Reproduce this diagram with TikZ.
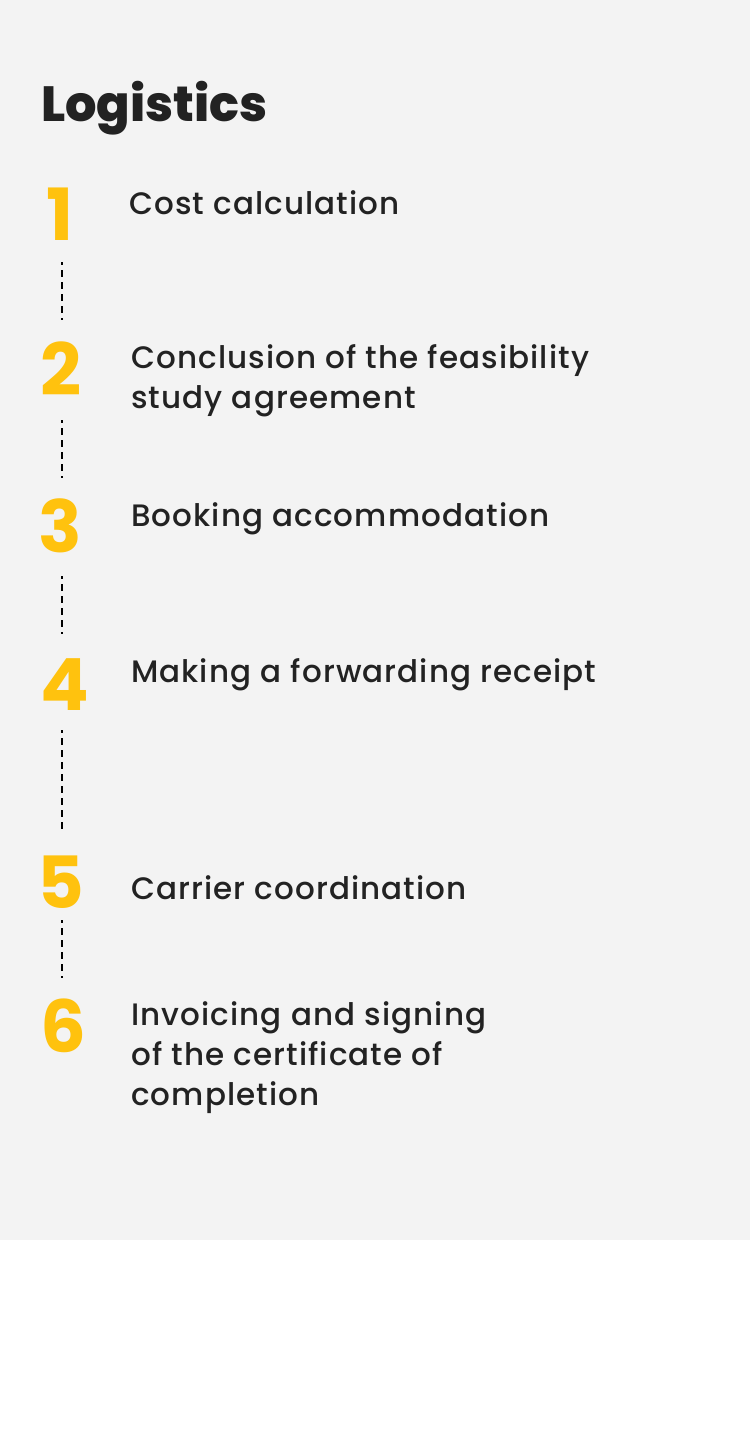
\documentclass[tikz,border=0pt]{standalone}
\usepackage{fontspec}
\setmainfont{Poppins}
\newfontfamily\labfont{Poppins}[UprightFont=* Medium, LetterSpace=3.5]
\newfontfamily\titfont{Poppins}[UprightFont=* ExtraBold]
\newfontfamily\digfont{Poppins}[UprightFont=* Bold]
\definecolor{bgc}{HTML}{F3F3F3}
\definecolor{ink}{HTML}{222222}
\definecolor{gold}{HTML}{FFC20E}
\newcommand{\lines}[1]{\begin{tabular}[t]{@{}l@{}}#1\end{tabular}}
\tikzset{
  lab/.style={anchor=base west, inner sep=0pt, text=ink, font=\labfont\fontsize{31}{40}\selectfont},
  dig/.style={anchor=base, inner sep=0pt, text=gold, font=\digfont\fontsize{72}{72}\selectfont},
  dline/.style={draw=black, line width=2pt, dash pattern=on 7pt off 5pt, dash phase=4pt},
}
\begin{document}
\begin{tikzpicture}[x=1pt,y=-1pt]
\useasboundingbox (0,0) rectangle (750,1452);
\fill[white] (0,0) rectangle (750,1452);
\fill[bgc] (0,0) rectangle (750,1240);
\node[anchor=base west, inner sep=0pt, text=ink, font=\titfont\fontsize{49.4}{50}\selectfont] (title) at (41,121) {Logistics};
\node[dig] (d1) at (60,240) {1};
\node[dig] (d2) at (61,395) {2};
\node[dig] (d3) at (60,552) {3};
\node[dig] (d4) at (65,710) {4};
\node[dig] (d5) at (61,908) {5};
\node[dig] (d6) at (63,1052) {6};
\node[lab] (l1) at (129,214) {Cost calculation};
\node[lab] (l2) at (131,368) {\lines{Conclusion of the feasibility\\study agreement}};
\node[lab] (l3) at (131,526) {Booking accommodation};
\node[lab] (l4) at (131,682) {Making a forwarding receipt};
\node[lab] (l5) at (131,899) {Carrier coordination};
\node[lab] (l6) at (131,1025) {\lines{Invoicing and signing\\of the certificate of\\completion}};
\coordinate (a1) at (62,262); \coordinate (b1) at (62,320);
\coordinate (a2) at (62,420); \coordinate (b2) at (62,478);
\coordinate (a3) at (62,576); \coordinate (b3) at (62,634);
\coordinate (a4) at (62,730); \coordinate (b4) at (62,832);
\coordinate (a5) at (62,920); \coordinate (b5) at (62,978);
\draw[dline] (a1) -- (b1);
\draw[dline] (a2) -- (b2);
\draw[dline] (a3) -- (b3);
\draw[dline] (a4) -- (b4);
\draw[dline] (a5) -- (b5);
\end{tikzpicture}
\end{document}
